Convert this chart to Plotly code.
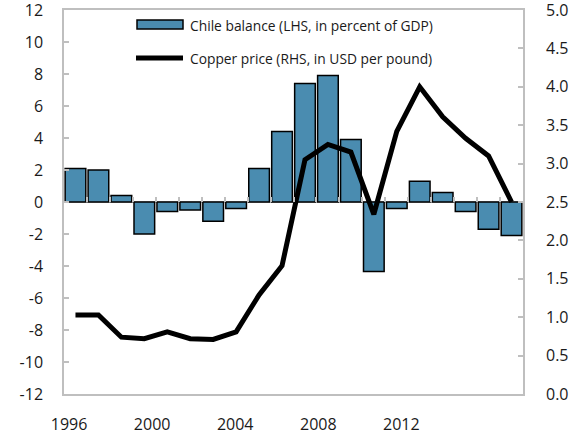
import plotly.graph_objects as go

years = list(range(1996, 2016))
chile_balance = [2.1, 2.0, 0.4, -2.0, -0.6, -0.5, -1.2, -0.4, 2.1, 4.4,
                 7.4, 7.9, 3.9, -4.35, -0.4, 1.3, 0.6, -0.6, -1.7, -2.1]
copper_price = [1.03, 1.03, 0.74, 0.72, 0.81, 0.72, 0.71, 0.81, 1.29, 1.67,
                3.05, 3.25, 3.15, 2.34, 3.42, 4.00, 3.61, 3.33, 3.10, 2.50]
x_tick_labels = ["1996", "2000", "2004", "2008", "2012"]
left_ticks = list(range(-12, 13, 2))
right_ticks = [i * 0.5 for i in range(11)]

BAR_COLOR = "rgb(74,140,176)"
GRAY = "#BFBFBF"
FONT = "Open Sans"
TXT = "#1a1a1a"
TICK_SIZE = 16

fig = go.Figure()
fig.add_trace(go.Bar(
    x=years, y=chile_balance, name="Chile balance (LHS, in percent of GDP)",
    marker=dict(color=BAR_COLOR, line=dict(color="black", width=1.5)),
    showlegend=False, yaxis="y", xaxis="x"))
fig.add_trace(go.Scatter(
    x=years, y=copper_price, name="Copper price (RHS, in USD per pound)",
    mode="lines", line=dict(color="black", width=5),
    showlegend=False, yaxis="y2", xaxis="x"))
# invisible trace so the zero-line category ticks (xaxis2) are rendered
fig.add_trace(go.Scatter(x=[years[0]], y=[0], xaxis="x2", yaxis="y",
                         mode="markers", marker=dict(opacity=0),
                         showlegend=False, hoverinfo="skip"))

# label positions (as in the original, labels drift left of the bars)
label_pos = [1995.72 + i * 3.62 for i in range(len(x_tick_labels))]
xrange = [years[0] - 0.5, years[-1] + 0.5]

fig.update_layout(
    width=577, height=437,
    margin=dict(l=64, r=54, t=10, b=43, autoexpand=False),
    paper_bgcolor="white", plot_bgcolor="white",
    bargap=0.1,
    font=dict(family=FONT, color=TXT),
    xaxis=dict(range=xrange, tickvals=label_pos, ticktext=x_tick_labels,
               ticks="", showgrid=False, zeroline=False, automargin=False,
               showline=True, linecolor=GRAY, linewidth=1.5, mirror=True,
               tickfont=dict(size=TICK_SIZE, family=FONT, color=TXT),
               ticklabelstandoff=15, ticklabeloverflow="allow"),
    xaxis2=dict(range=xrange, overlaying="x", anchor="free", position=0.5,
                side="bottom", tickvals=[y + 0.5 for y in years[:-1]],
                ticks="inside", ticklen=5, tickcolor=GRAY, tickwidth=1.5,
                showticklabels=False, showgrid=False, zeroline=False,
                showline=False, automargin=False),
    yaxis=dict(range=[-12, 12], tickvals=left_ticks,
               ticktext=[str(v) for v in left_ticks],
               ticks="inside", ticklen=5, tickcolor=GRAY, tickwidth=1.5,
               showgrid=False, zeroline=True, zerolinecolor=GRAY,
               zerolinewidth=2, showline=True, linecolor=GRAY,
               linewidth=1.5, mirror=True, automargin=False,
               tickfont=dict(size=TICK_SIZE, family=FONT, color=TXT),
               ticklabelstandoff=16, ticklabeloverflow="allow"),
    yaxis2=dict(range=[0, 5], tickvals=right_ticks,
                ticktext=[f"{v:.1f}" for v in right_ticks],
                overlaying="y", side="right", anchor="x",
                ticks="inside", ticklen=5, tickcolor=GRAY, tickwidth=1.5,
                showgrid=False, zeroline=False, showline=False,
                automargin=False,
                tickfont=dict(size=TICK_SIZE, family=FONT, color=TXT),
                ticklabelstandoff=22, ticklabeloverflow="allow"),
)

# manual legend (wide keys as in the original); paper coords from ref pixels
def px_x(p):
    return (p - 64) / 459

def px_y(p):
    return (394 - p) / 384

fig.add_shape(type="rect", xref="paper", yref="paper",
              x0=px_x(137), x1=px_x(183), y0=px_y(29), y1=px_y(20),
              fillcolor=BAR_COLOR, line=dict(color="black", width=1.5))
fig.add_shape(type="line", xref="paper", yref="paper",
              x0=px_x(136), x1=px_x(183), y0=px_y(58), y1=px_y(58),
              line=dict(color="black", width=5))
fig.add_annotation(text="Chile balance (LHS, in percent of GDP)",
                   xref="paper", yref="paper", x=px_x(188), y=px_y(25),
                   xanchor="left", yanchor="middle", showarrow=False,
                   font=dict(size=13.8, family=FONT, color=TXT))
fig.add_annotation(text="Copper price (RHS, in USD per pound)",
                   xref="paper", yref="paper", x=px_x(188), y=px_y(58),
                   xanchor="left", yanchor="middle", showarrow=False,
                   font=dict(size=13.8, family=FONT, color=TXT))

# remove the browser's default 8px body margin so the figure fills the window
fig.write_html("out.html",
               config={"displayModeBar": False},
               post_script="document.body.style.margin='0';"
                           "document.body.style.overflow='hidden';")
